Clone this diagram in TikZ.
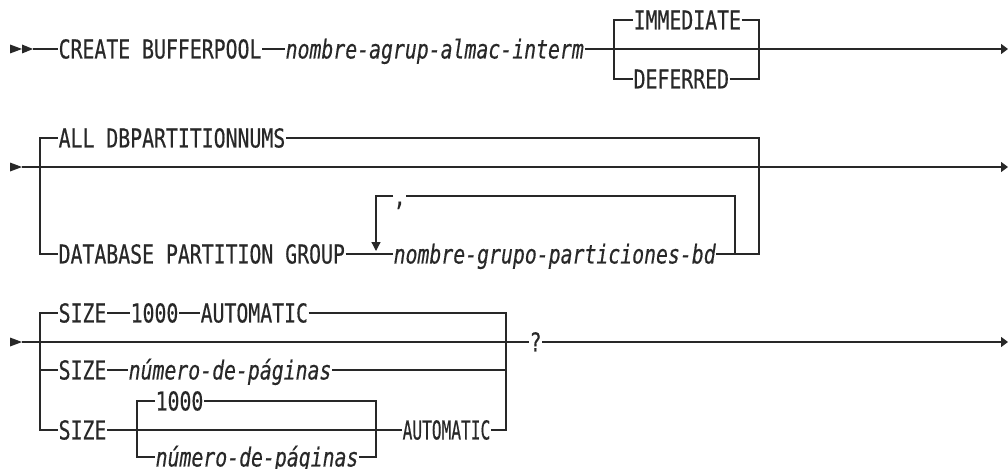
\documentclass[tikz,border=0pt]{standalone}
\usepackage{fontspec}
\usetikzlibrary{arrows.meta}
\newfontfamily\dfont{DejaVu Sans Mono}[FakeStretch=0.762,FakeBold=0.4]
\newfontfamily\dfontn{DejaVu Sans Mono}[FakeStretch=0.622,FakeBold=0.4]
\definecolor{dk}{RGB}{40,40,40}
\begin{document}
\begin{tikzpicture}[x=1pt,y=-1pt,
  line width=1.3pt, draw=dk,
  tx/.style={inner sep=0pt, anchor=west, text height=18.9pt, text depth=0pt,
    font=\dfont\fontsize{26pt}{28pt}\selectfont, text=dk},
  it/.style={tx, font=\dfont\itshape\fontsize{26pt}{28pt}\selectfont},
  txn/.style={tx, font=\dfontn\fontsize{26pt}{28pt}\selectfont},
  endarrow/.style={-{Triangle[length=7pt,width=10pt]}},
  downarrow/.style={-{Triangle[length=9pt,width=9pt]}}]
\useasboundingbox (0,0) rectangle (1008,468);
\fill[white] (0,0) rectangle (1008,468);

% ---------- Row 1 ----------
\fill[dk] (10,44.5) -- (22,49) -- (10,53.5) -- cycle;
\fill[dk] (22,44.5) -- (33,49) -- (22,53.5) -- cycle;
\coordinate (a1) at (33,49);
\node[tx] (cb) at (58,49) {CREATE BUFFERPOOL};
\node[it] (nag) at (285,49) {nombre-agrup-almac-interm};
\coordinate (e1) at (1008,49);
\draw (a1) -- (cb.west);
\draw (cb.east) -- (nag.west);
\draw[endarrow] (nag.east) -- (e1);
\coordinate (b1l) at (614,49);
\coordinate (b1r) at (759,49);
\node[tx] (imm) at (633,20) {IMMEDIATE};
\node[tx] (def) at (633,79) {DEFERRED};
\draw (b1l) |- (imm.west);
\draw (b1l) |- (def.west);
\draw (imm.east) -| (b1r);
\draw (def.east) -| (b1r);

% ---------- Row 2 ----------
\fill[dk] (10,162.5) -- (22,167) -- (10,171.5) -- cycle;
\coordinate (a2) at (22,167);
\coordinate (e2) at (1008,167);
\draw[endarrow] (a2) -- (e2);
\coordinate (b2l) at (40,167);
\coordinate (b2r) at (759,167);
\node[tx] (all) at (58,138) {ALL DBPARTITIONNUMS};
\node[tx] (dpg) at (58,254) {DATABASE PARTITION GROUP};
\node[it] (ngp) at (393,254) {nombre-grupo-particiones-bd};
\draw (b2l) |- (all.west);
\draw (b2l) |- (dpg.west);
\draw (all.east) -| (b2r);
\draw (dpg.east) -- (ngp.west);
\draw (ngp.east) -| (b2r);
\node[tx] (cm) at (393,196) {,};
\coordinate (lpt) at (376,251);
\coordinate (lpr) at (735,254);
\draw[downarrow] (cm.west) -| (lpt);
\draw (cm.east) -| (lpr);

% ---------- Row 3 ----------
\fill[dk] (10,337.5) -- (22,342) -- (10,346.5) -- cycle;
\coordinate (a3) at (22,342);
\coordinate (b3l) at (40,342);
\coordinate (b3r) at (506,342);
\node[tx] (q) at (529,342) {?};
\coordinate (e3) at (1008,342);
\draw (a3) -- (b3r) -- (q.west);
\draw[endarrow] (q.east) -- (e3);
% branch 1
\node[tx] (s1a) at (58,313) {SIZE};
\node[tx] (k1) at (130,313) {1000};
\node[tx] (au1) at (200,313) {AUTOMATIC};
\draw (b3l) |- (s1a.west);
\draw (s1a.east) -- (k1.west);
\draw (k1.east) -- (au1.west);
\draw (au1.east) -| (b3r);
% branch 3
\node[tx] (s3) at (58,370) {SIZE};
\node[it] (np1) at (128,370) {número-de-páginas};
\draw (b3l) |- (s3.west);
\draw (s3.east) -- (np1.west);
\draw (np1.east) -| (b3r);
% branch 4
\node[tx] (s4) at (58,430) {SIZE};
\node[txn] (au2) at (402,430) {AUTOMATIC};
\draw (b3l) |- (s4.west);
\draw (s4.east) -- (au2.west);
\draw (au2.east) -| (b3r);
% inner choice
\coordinate (il) at (137,430);
\coordinate (ir) at (376,430);
\node[tx] (k2) at (155,401) {1000};
\node[it] (np2) at (155,457) {número-de-páginas};
\draw (il) |- (k2.west);
\draw (il) |- (np2.west);
\draw (k2.east) -| (ir);
\draw (np2.east) -| (ir);
\end{tikzpicture}
\end{document}
